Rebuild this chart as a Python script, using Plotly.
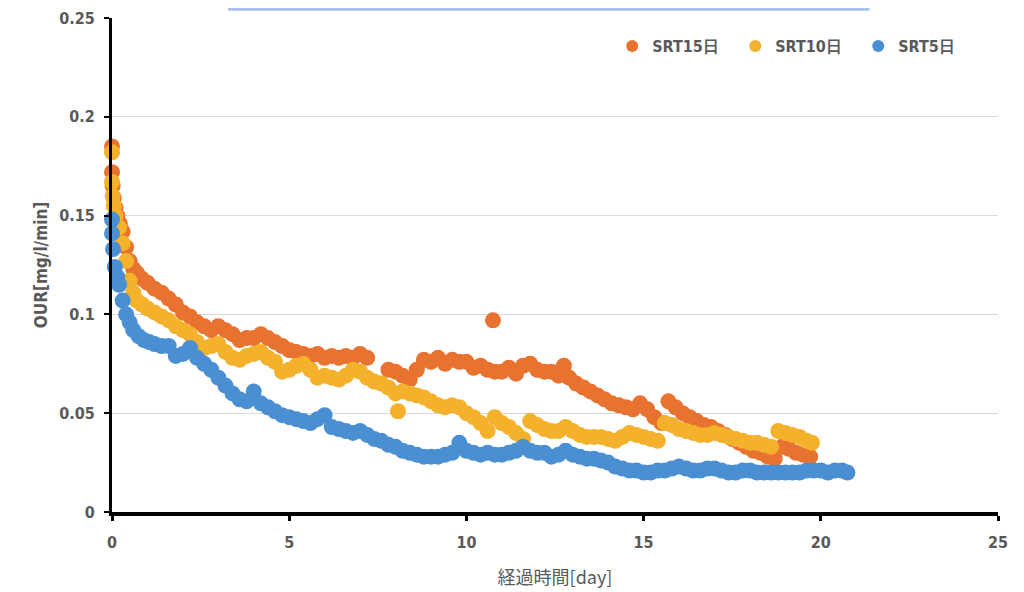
import plotly.graph_objects as go

# ---------------- data ----------------
series_names = ["SRT15日", "SRT10日", "SRT5日"]
series_colors = ["#E8722F", "#F4B12B", "#4A8FD2"]

srt15_day = [0, 0, 0.02, 0.05, 0.1, 0.15, 0.22, 0.3, 0.4, 0.5,
             0.6, 0.7, 0.85, 1.0, 1.2, 1.4, 1.6, 1.8, 2.0, 2.2,
             2.4, 2.6, 2.8, 3.0, 3.2, 3.4, 3.6, 3.8, 4.0, 4.2,
             4.4, 4.6, 4.8, 5.0, 5.2, 5.4, 5.6, 5.8, 6.0, 6.2,
             6.4, 6.6, 6.8, 7.0, 7.2, 7.8, 8.0, 8.2, 8.4, 8.6,
             8.8, 9.0, 9.2, 9.4, 9.6, 9.8, 10.0, 10.2, 10.4, 10.6,
             10.75, 10.8, 11.0, 11.2, 11.4, 11.6, 11.8, 12.0, 12.2, 12.4,
             12.6, 12.75, 12.9, 13.1, 13.3, 13.5, 13.7, 13.9, 14.1, 14.3,
             14.5, 14.7, 14.9, 15.1, 15.3, 15.5, 15.7, 15.9, 16.1, 16.3,
             16.5, 16.7, 16.9, 17.1, 17.3, 17.5, 17.7, 17.9, 18.1, 18.3,
             18.5, 18.7, 18.9, 19.1, 19.3, 19.5, 19.7]
srt15_our = [0.185, 0.172, 0.165, 0.159, 0.154, 0.150, 0.146, 0.142, 0.134, 0.127,
             0.123, 0.121, 0.118, 0.116, 0.113, 0.111, 0.108, 0.105, 0.101, 0.099,
             0.096, 0.094, 0.092, 0.094, 0.092, 0.090, 0.087, 0.088, 0.088, 0.090,
             0.088, 0.086, 0.084, 0.082, 0.081, 0.080, 0.079, 0.080, 0.078, 0.079,
             0.078, 0.079, 0.078, 0.080, 0.078, 0.072, 0.071, 0.069, 0.067, 0.072,
             0.077, 0.076, 0.078, 0.075, 0.077, 0.076, 0.076, 0.073, 0.074, 0.072,
             0.097, 0.071, 0.071, 0.073, 0.070, 0.074, 0.075, 0.072, 0.071, 0.071,
             0.069, 0.074, 0.068, 0.065, 0.063, 0.061, 0.059, 0.057, 0.055, 0.054,
             0.053, 0.052, 0.055, 0.052, 0.048, 0.045, 0.056, 0.053, 0.050, 0.048,
             0.046, 0.044, 0.043, 0.041, 0.039, 0.037, 0.035, 0.033, 0.031, 0.030,
             0.028, 0.027, 0.033, 0.032, 0.030, 0.029, 0.028]

srt10_day = [0, 0, 0.02, 0.05, 0.1, 0.2, 0.3, 0.4, 0.5, 0.6,
             0.7, 0.85, 1.0, 1.2, 1.4, 1.6, 1.8, 2.0, 2.2, 2.4,
             2.6, 2.8, 3.0, 3.2, 3.4, 3.6, 3.8, 4.0, 4.2, 4.4,
             4.6, 4.8, 5.0, 5.2, 5.4, 5.6, 5.8, 6.0, 6.2, 6.4,
             6.6, 6.8, 7.0, 7.2, 7.4, 7.6, 7.8, 8.0, 8.07, 8.2,
             8.4, 8.6, 8.8, 9.0, 9.2, 9.4, 9.6, 9.8, 10.0, 10.2,
             10.4, 10.6, 10.8, 11.0, 11.2, 11.4, 11.6, 11.8, 12.0, 12.2,
             12.4, 12.6, 12.8, 13.0, 13.2, 13.4, 13.6, 13.8, 14.0, 14.2,
             14.4, 14.6, 14.8, 15.0, 15.2, 15.4, 15.6, 15.8, 16.0, 16.2,
             16.4, 16.6, 16.8, 17.0, 17.2, 17.4, 17.6, 17.8, 18.0, 18.2,
             18.4, 18.6, 18.8, 19.0, 19.2, 19.4, 19.6, 19.75]
srt10_our = [0.182, 0.167, 0.160, 0.155, 0.150, 0.144, 0.136, 0.127, 0.117, 0.111,
             0.107, 0.105, 0.103, 0.101, 0.099, 0.097, 0.094, 0.092, 0.090, 0.086,
             0.083, 0.084, 0.085, 0.081, 0.078, 0.077, 0.079, 0.080, 0.081, 0.078,
             0.076, 0.071, 0.072, 0.074, 0.075, 0.072, 0.068, 0.069, 0.068, 0.067,
             0.069, 0.072, 0.071, 0.068, 0.066, 0.065, 0.063, 0.060, 0.051, 0.061,
             0.060, 0.059, 0.058, 0.056, 0.054, 0.053, 0.054, 0.053, 0.050, 0.048,
             0.045, 0.041, 0.048, 0.045, 0.043, 0.040, 0.037, 0.046, 0.044, 0.042,
             0.041, 0.041, 0.043, 0.041, 0.039, 0.038, 0.038, 0.038, 0.037, 0.036,
             0.038, 0.040, 0.039, 0.038, 0.037, 0.036, 0.045, 0.044, 0.042, 0.041,
             0.040, 0.039, 0.039, 0.040, 0.039, 0.038, 0.037, 0.036, 0.035, 0.035,
             0.034, 0.033, 0.041, 0.040, 0.039, 0.038, 0.036, 0.035]

srt5_day = [0, 0, 0.03, 0.08, 0.15, 0.2, 0.3, 0.4, 0.5, 0.6,
            0.75, 0.9, 1.05, 1.2, 1.4, 1.6, 1.8, 2.0, 2.2, 2.4,
            2.6, 2.8, 3.0, 3.2, 3.4, 3.6, 3.8, 4.0, 4.2, 4.4,
            4.6, 4.8, 5.0, 5.2, 5.4, 5.6, 5.8, 6.0, 6.2, 6.4,
            6.6, 6.8, 7.0, 7.2, 7.4, 7.6, 7.8, 8.0, 8.2, 8.4,
            8.6, 8.8, 9.0, 9.2, 9.4, 9.6, 9.8, 10.0, 10.2, 10.4,
            10.6, 10.8, 11.0, 11.2, 11.4, 11.6, 11.8, 12.0, 12.2, 12.4,
            12.6, 12.8, 13.0, 13.2, 13.4, 13.6, 13.8, 14.0, 14.2, 14.4,
            14.6, 14.8, 15.0, 15.2, 15.4, 15.6, 15.8, 16.0, 16.2, 16.4,
            16.6, 16.8, 17.0, 17.2, 17.4, 17.6, 17.8, 18.0, 18.2, 18.4,
            18.6, 18.8, 19.0, 19.2, 19.4, 19.6, 19.8, 20.0, 20.2, 20.4,
            20.6, 20.75]
srt5_our = [0.148, 0.141, 0.133, 0.124, 0.119, 0.115, 0.107, 0.100, 0.096, 0.092,
            0.089, 0.087, 0.086, 0.085, 0.084, 0.084, 0.079, 0.080, 0.083, 0.078,
            0.075, 0.072, 0.068, 0.064, 0.060, 0.057, 0.056, 0.061, 0.055, 0.053,
            0.051, 0.049, 0.048, 0.047, 0.046, 0.045, 0.047, 0.049, 0.043, 0.042,
            0.041, 0.040, 0.041, 0.039, 0.037, 0.036, 0.034, 0.033, 0.031, 0.030,
            0.029, 0.028, 0.028, 0.028, 0.029, 0.030, 0.035, 0.031, 0.030, 0.029,
            0.030, 0.029, 0.029, 0.030, 0.031, 0.033, 0.031, 0.030, 0.030, 0.028,
            0.029, 0.031, 0.029, 0.028, 0.027, 0.027, 0.026, 0.025, 0.023, 0.022,
            0.021, 0.021, 0.020, 0.020, 0.021, 0.021, 0.022, 0.023, 0.022, 0.021,
            0.021, 0.022, 0.022, 0.021, 0.020, 0.020, 0.021, 0.021, 0.020, 0.020,
            0.020, 0.020, 0.020, 0.020, 0.020, 0.021, 0.021, 0.021, 0.020, 0.021,
            0.021, 0.020]

x_ticks = [0, 5, 10, 15, 20, 25]
y_ticks = [0, 0.05, 0.1, 0.15, 0.2, 0.25]
x_title = "経過時間[day]"
y_title = "OUR[mg/l/min]"

# ---------------- figure ----------------
LAT = "Liberation Sans Narrow, DejaVu Sans Condensed, Arial Narrow, sans-serif"
GREY = "#595959"

fig = go.Figure()
for name, color, xs, ys in zip(series_names, series_colors,
                               [srt15_day, srt10_day, srt5_day],
                               [srt15_our, srt10_our, srt5_our]):
    fig.add_trace(go.Scatter(
        x=xs, y=ys, mode="markers", name=name,
        marker=dict(color=color, size=16, line=dict(width=0)),
        cliponaxis=False,
    ))

fig.update_layout(
    width=1024, height=592,
    margin=dict(l=104, r=34, t=10, b=88, autoexpand=False),
    paper_bgcolor="white", plot_bgcolor="white",
    showlegend=True,
    legend=dict(
        orientation="h", x=0.5646, y=0.943, xanchor="left", yanchor="middle",
        font=dict(family=LAT, size=16, color=GREY, weight="bold"),
        itemsizing="constant", bgcolor="rgba(0,0,0,0)",
        entrywidth=78, itemwidth=30,
    ),
    xaxis=dict(
        range=[0, 25], tickvals=x_ticks, ticktext=[str(v) for v in x_ticks],
        showgrid=False, zeroline=False, automargin=False,
        showline=True, linecolor="black", linewidth=4,
        ticks="outside", ticklen=5, tickwidth=3, tickcolor="black",
        tickfont=dict(family=LAT, size=16, color=GREY, weight="bold"),
        ticklabelstandoff=8,
        title=dict(text=x_title, standoff=21,
                   font=dict(family="Noto Sans CJK JP", size=18, color=GREY)),
    ),
    yaxis=dict(
        range=[0, 0.25], tickvals=y_ticks,
        ticktext=["0", "0.05", "0.1", "0.15", "0.2", "0.25"],
        showgrid=True, gridcolor="#d9d9d9", gridwidth=1, zeroline=False,
        automargin=False,
        showline=True, linecolor="black", linewidth=3,
        ticks="outside", ticklen=5, tickwidth=2, tickcolor="black",
        tickfont=dict(family=LAT, size=16, color=GREY, weight="bold"),
        ticklabelstandoff=6,
        title=dict(text=y_title, standoff=8,
                   font=dict(family=LAT, size=17, color=GREY, weight="bold")),
    ),
    shapes=[dict(type="line", xref="paper", yref="paper",
                 x0=0.131, x1=0.855, y0=1.0175, y1=1.0175,
                 line=dict(color="#a9c1ee", width=3))],
)

fig.write_html("out.html")
